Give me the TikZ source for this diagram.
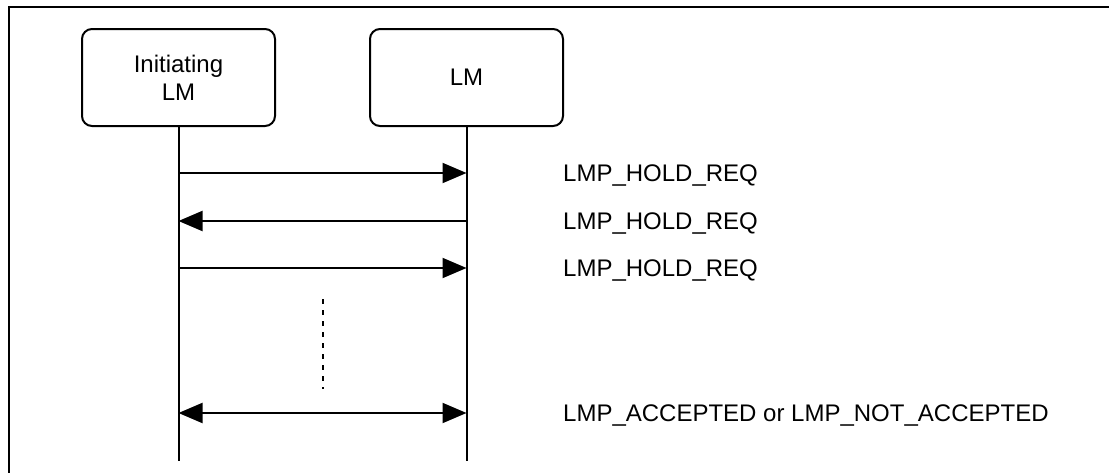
\documentclass[tikz,border=0pt]{standalone}
\usepackage{fontspec}
\setmainfont{Liberation Sans}
\usetikzlibrary{arrows.meta}
\begin{document}
\begin{tikzpicture}[x=1pt,y=-1pt,
  lifebox/.style={draw,line width=2pt,rounded corners=10pt,minimum width=193pt,minimum height=97pt,inner sep=0pt,align=center,font=\fontsize{24}{28}\selectfont},
  lifeline/.style={line width=2pt},
  msg/.style={line width=2pt,-{Triangle[length=24pt,width=20pt]}},
  msgboth/.style={line width=2pt,{Triangle[length=24pt,width=20pt]}-{Triangle[length=24pt,width=20pt]}},
  gap/.style={line width=2pt,dash pattern=on 5pt off 6pt},
  lbl/.style={anchor=base west,inner sep=0pt,font=\fontsize{24}{28}\selectfont}]
\useasboundingbox (0,0) rectangle (1109,472);
\clip (0,0) rectangle (1109,472);
\draw[line width=2pt] (9,7) rectangle (1130,490);
\node[lifebox] (init) at (178.5,77.5) {Initiating\\LM};
\node[lifebox] (lm) at (466.5,77.5) {LM};
\coordinate (initend) at (178.5,461);
\coordinate (lmend) at (466.5,461);
\draw[lifeline] (init.south) -- (initend);
\draw[lifeline] (lm.south) -- (lmend);
\coordinate (i1) at (178.5,173); \coordinate (l1) at (466.5,173);
\coordinate (i2) at (178.5,221); \coordinate (l2) at (466.5,221);
\coordinate (i3) at (178.5,268); \coordinate (l3) at (466.5,268);
\coordinate (i4) at (178.5,413); \coordinate (l4) at (466.5,413);
\coordinate (d1) at (323,299); \coordinate (d2) at (323,389);
\draw[msg] (i1) -- (l1);
\draw[msg] (l2) -- (i2);
\draw[msg] (i3) -- (l3);
\draw[msgboth] (i4) -- (l4);
\draw[gap] (d1) -- (d2);
\node[lbl] (m1) at (563,181.5) {LMP\_HOLD\_REQ};
\node[lbl] (m2) at (563,229.5) {LMP\_HOLD\_REQ};
\node[lbl] (m3) at (563,276.5) {LMP\_HOLD\_REQ};
\node[lbl] (m4) at (563,421.5) {LMP\_ACCEPTED or LMP\_NOT\_ACCEPTED};
\end{tikzpicture}
\end{document}
